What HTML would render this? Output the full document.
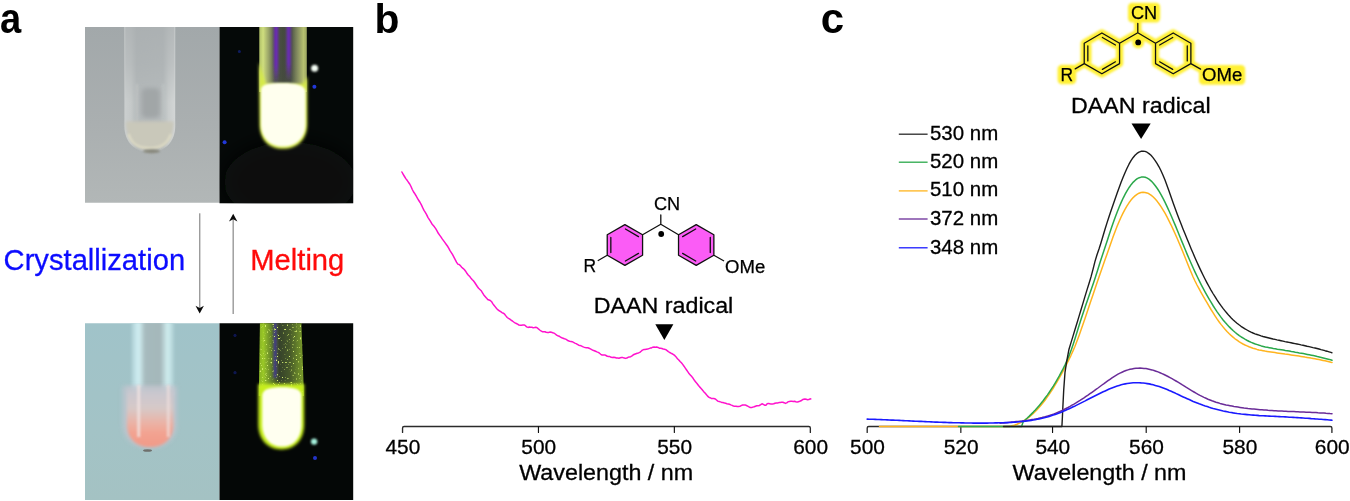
<!DOCTYPE html>
<html lang="en">
<head>
<meta charset="utf-8">
<title>Figure: crystallization and melting, DAAN radical spectra</title>
<style>
html,body{margin:0;padding:0;background:#fff;}
body{width:1350px;height:501px;overflow:hidden;}
svg{display:block;font-family:"Liberation Sans", "Helvetica", "Arial", sans-serif;}
</style>
</head>
<body>
<svg width="1350" height="501" viewBox="0 0 1350 501">
<defs>

<filter id="yglow" x="-10%" y="-20%" width="120%" height="140%"><feGaussianBlur stdDeviation="1.0"/></filter>
<filter id="b05" x="-50%" y="-50%" width="200%" height="200%"><feGaussianBlur stdDeviation="0.6"/></filter>
<filter id="b1" x="-50%" y="-50%" width="200%" height="200%"><feGaussianBlur stdDeviation="1"/></filter>
<filter id="b15" x="-50%" y="-50%" width="200%" height="200%"><feGaussianBlur stdDeviation="1.5"/></filter>
<filter id="b2" x="-50%" y="-50%" width="200%" height="200%"><feGaussianBlur stdDeviation="2"/></filter>
<filter id="b3" x="-50%" y="-50%" width="200%" height="200%"><feGaussianBlur stdDeviation="3"/></filter>
<filter id="b5" x="-50%" y="-50%" width="200%" height="200%"><feGaussianBlur stdDeviation="5"/></filter>
<filter id="b10" x="-50%" y="-50%" width="200%" height="200%"><feGaussianBlur stdDeviation="10"/></filter>
<filter id="speck" x="0" y="0" width="100%" height="100%"><feTurbulence type="fractalNoise" baseFrequency="0.55" numOctaves="2" seed="4" result="n"/><feColorMatrix in="n" type="matrix" values="0 0 0 0 0.66  0 0 0 0 0.86  0 0 0 0 0.16  0 0 0 7 -4.45"/><feGaussianBlur stdDeviation="0.55"/></filter>
<filter id="grain" x="0" y="0" width="100%" height="100%"><feTurbulence type="fractalNoise" baseFrequency="0.8" numOctaves="2" seed="2" result="n"/><feColorMatrix in="n" type="matrix" values="0 0 0 0 1  0 0 0 0 1  0 0 0 0 1  0 0 0 1.2 -0.55"/></filter>
<clipPath id="cTL"><rect x="85" y="27" width="134.5" height="175.8"/></clipPath>
<clipPath id="cTR"><rect x="219.5" y="27" width="133.7" height="176.2"/></clipPath>
<clipPath id="cBL"><rect x="85" y="323.3" width="134.5" height="176.6"/></clipPath>
<clipPath id="cBR"><rect x="219.5" y="323.3" width="133.7" height="176.6"/></clipPath>
<clipPath id="cBRtube"><path d="M260,318 H301.2 L304,396 H258.8 Z"/></clipPath>
<linearGradient id="gTL" x1="0" y1="0" x2="0" y2="1"><stop offset="0" stop-color="#a2a8aa"/><stop offset="0.55" stop-color="#aaafb0"/><stop offset="1" stop-color="#b2b7b7"/></linearGradient>
<linearGradient id="gTLtube" x1="0" y1="0" x2="1" y2="0"><stop offset="0" stop-color="#cbcfcf"/><stop offset="0.13" stop-color="#c5c9c9"/><stop offset="0.24" stop-color="#b4b9ba"/><stop offset="0.76" stop-color="#b6bbbc"/><stop offset="0.87" stop-color="#c9cdcd"/><stop offset="1" stop-color="#d3d6d6"/></linearGradient>
<linearGradient id="gTLfade" x1="0" y1="0" x2="0" y2="1"><stop offset="0" stop-color="#a7acae" stop-opacity="0.72"/><stop offset="0.4" stop-color="#a7acae" stop-opacity="0.45"/><stop offset="0.75" stop-color="#a7acae" stop-opacity="0"/></linearGradient>
<linearGradient id="gTRtube" x1="0" y1="0" x2="1" y2="0"><stop offset="0" stop-color="#b0c068"/><stop offset="0.08" stop-color="#cfde7e"/><stop offset="0.2" stop-color="#98a268"/><stop offset="0.33" stop-color="#4e5646"/><stop offset="0.5" stop-color="#444b3e"/><stop offset="0.66" stop-color="#485042"/><stop offset="0.8" stop-color="#848c60"/><stop offset="0.93" stop-color="#b6c070"/><stop offset="1" stop-color="#9ca662"/></linearGradient>
<linearGradient id="gTRfade" x1="0" y1="0" x2="0" y2="1"><stop offset="0" stop-color="#6a2cb4"/><stop offset="0.7" stop-color="#6a2cb4"/><stop offset="1" stop-color="#6a2cb4" stop-opacity="0"/></linearGradient>
<linearGradient id="gBL" x1="0" y1="0" x2="0" y2="1"><stop offset="0" stop-color="#a0c3c9"/><stop offset="0.6" stop-color="#a3c3c6"/><stop offset="1" stop-color="#a4c2c3"/></linearGradient>
<linearGradient id="gBLtube" x1="0" y1="0" x2="1" y2="0"><stop offset="0" stop-color="#aed0d6"/><stop offset="0.17" stop-color="#d2f0f4"/><stop offset="0.32" stop-color="#a6babd"/><stop offset="0.68" stop-color="#a4b7ba"/><stop offset="0.85" stop-color="#d0eef0"/><stop offset="1" stop-color="#accdd2"/></linearGradient>
<linearGradient id="gBLliq" x1="0" y1="0" x2="0" y2="1"><stop offset="0" stop-color="#c6c8cf" stop-opacity="0"/><stop offset="0.16" stop-color="#cbc8cf"/><stop offset="0.38" stop-color="#d6c9c8"/><stop offset="0.6" stop-color="#e9b4a8"/><stop offset="0.78" stop-color="#f3a290"/><stop offset="1" stop-color="#f09a88"/></linearGradient>
<linearGradient id="gBRtube" x1="0" y1="0" x2="1" y2="0"><stop offset="0" stop-color="#86b024"/><stop offset="0.1" stop-color="#9ac828"/><stop offset="0.28" stop-color="#62802a"/><stop offset="0.46" stop-color="#36422a"/><stop offset="0.68" stop-color="#46582a"/><stop offset="0.9" stop-color="#6c8a2c"/><stop offset="1" stop-color="#7ea02a"/></linearGradient>

</defs>
<g clip-path="url(#cTL)">
<rect x="84" y="26" width="137" height="178" fill="url(#gTL)"/>
<path d="M124.4,20 V126 C124.4,142 134.5,152 149.6,152 C165,152 175.2,142 175.2,126 V20 Z" fill="url(#gTLtube)" filter="url(#b05)"/>
<rect x="125.2" y="20" width="49.4" height="110" fill="url(#gTLfade)"/>
<path d="M137,84 V122 M163.2,84 V122" fill="none" stroke="#c0c5c5" stroke-width="1.8" filter="url(#b1)"/>
<rect x="141.5" y="88" width="18.5" height="30" rx="5" fill="#a1a6a7" filter="url(#b2)"/>
<path d="M126,121.5 H173.6 C173.6,140 163.5,150 149.6,150 C136,150 126,140 126,121.5 Z" fill="#c9c8ba" filter="url(#b15)"/>
<path d="M128.5,134 C132,145.5 140,148.2 149.6,148.2 C159,148.2 167.2,145.5 170.8,134" fill="none" stroke="#dedbc4" stroke-width="2.4" filter="url(#b1)"/>
<path d="M137,120.3 H163" stroke="#dcdfdb" stroke-width="1.5" filter="url(#b05)"/>
<ellipse cx="151.5" cy="151.2" rx="8.5" ry="2" fill="#87877c" filter="url(#b1)"/>
</g>
<g clip-path="url(#cTR)">
<rect x="219" y="26" width="136" height="179" fill="#050908"/>
<ellipse cx="290" cy="182" rx="66" ry="40" fill="#080f08" filter="url(#b10)"/>
<rect x="259.3" y="20" width="47.5" height="72" fill="url(#gTRtube)" filter="url(#b05)"/>
<rect x="274" y="20" width="4.2" height="64" fill="url(#gTRfade)" filter="url(#b1)"/>
<rect x="286.6" y="20" width="4.2" height="61" fill="url(#gTRfade)" filter="url(#b1)"/>
<path d="M258.9,62 L259.6,124 C259.6,140 269,148.8 283,148.8 C297,148.8 307.2,140 307.2,124 V76 L303,84 H266 Z" fill="#d6ea4a" filter="url(#b15)"/>
<path d="M261,90 C261,84 268,83 283,83 C296,83 305.5,85 305.5,92 V124 C305.5,138 296,146.6 283,146.6 C270,146.6 261,138 261,124 Z" fill="#ffffee" filter="url(#b1)"/>
<circle cx="314.6" cy="68.2" r="3.5" fill="#f6fff6" filter="url(#b1)"/>
<circle cx="314.4" cy="86.8" r="2" fill="#2038d8" filter="url(#b05)"/>
<circle cx="239.4" cy="51.6" r="1.5" fill="#101c60" filter="url(#b05)"/>
<circle cx="224.6" cy="142.3" r="2" fill="#2038d8" filter="url(#b05)"/>
</g>
<g clip-path="url(#cBL)">
<rect x="84" y="322" width="137" height="179" fill="url(#gBL)"/>
<rect x="131.5" y="318" width="42.5" height="78" fill="url(#gBLtube)" filter="url(#b15)"/>
<path d="M122.5,386 H177 V424 C177,440 165,448 150,448 C134,448 122.5,440 122.5,424 Z" fill="#c3c5cf" opacity="0.75" filter="url(#b2)"/>
<path d="M127,384 H173.5 V424 C173.5,439 163.5,447 150,447 C136.5,447 127,439 127,424 Z" fill="url(#gBLliq)" filter="url(#b15)"/>
<rect x="137.2" y="385" width="3" height="52" fill="#f2e4e2" opacity="0.8" filter="url(#b1)"/>
<rect x="166.8" y="385" width="3" height="52" fill="#f0e0de" opacity="0.7" filter="url(#b1)"/>
<ellipse cx="147.5" cy="450.5" rx="4.5" ry="1.3" fill="#6e6f6c" filter="url(#b05)"/>
</g>
<g clip-path="url(#cBR)">
<rect x="219" y="322" width="136" height="179" fill="#040706"/>
<path d="M260,318 H301.2 L304,396 H258.8 Z" fill="url(#gBRtube)" filter="url(#b05)"/>
<rect x="273.6" y="318" width="3.2" height="60" fill="#4030a0" opacity="0.8" filter="url(#b1)"/>
<g clip-path="url(#cBRtube)"><rect x="258" y="322" width="48" height="70" filter="url(#speck)"/></g>
<path d="M258.2,384 V424 C258.2,440 268,449.4 281.4,449.4 C295,449.4 304.2,440 304.2,424 V384 Z" fill="#c6ee1c" filter="url(#b15)"/>
<path d="M262.2,396 C262.2,389 270,387.3 282,387.3 C294,387.3 301.4,389 301.4,396 V424 C301.4,438 293.5,446.6 282,446.6 C270.5,446.6 262.2,438 262.2,424 Z" fill="#fffff0" filter="url(#b1)"/>
<circle cx="314.1" cy="441.6" r="3.2" fill="#a4f0dc" filter="url(#b1)"/>
<circle cx="315" cy="458" r="2" fill="#2434c8" filter="url(#b05)"/>
<circle cx="235" cy="335.4" r="1.6" fill="#0e1850" filter="url(#b05)"/>
<circle cx="235" cy="372.7" r="1.6" fill="#0e1850" filter="url(#b05)"/>
</g>
<text x="-0.1" y="33.4" font-size="42" textLength="21.2" lengthAdjust="spacingAndGlyphs" font-weight="bold" fill="#000">a</text>
<text x="374.6" y="32.8" font-size="40.8" font-weight="bold" fill="#000">b</text>
<text x="820.8" y="33.4" font-size="42" font-weight="bold" fill="#000">c</text>
<text x="3.6" y="269.5" font-size="30.4" textLength="181.5" lengthAdjust="spacingAndGlyphs" fill="#0c0cff" stroke="#0c0cff" stroke-width="0.3">Crystallization</text>
<text x="250.3" y="269.5" font-size="30" textLength="94" lengthAdjust="spacingAndGlyphs" fill="#ff0a0a" stroke="#ff0a0a" stroke-width="0.3">Melting</text>
<line x1="199.7" y1="213.3" x2="199.7" y2="310" stroke="#9c9c9c" stroke-width="1.45"/>
<path d="M199.7,313.4 L195.5,305.7 L199.7,307.9 L203.9,305.7 Z" fill="#0a0a0a"/>
<line x1="233.2" y1="217" x2="233.2" y2="313.9" stroke="#9c9c9c" stroke-width="1.45"/>
<path d="M233.2,213.7 L229.0,221.4 L233.2,219.2 L237.4,221.4 Z" fill="#0a0a0a"/>
<path d="M401.9,172.0 L403.2,174.3 L404.5,176.5 L405.8,178.6 L407.1,180.3 L408.4,182.2 L409.7,184.0 L411.0,186.5 L412.3,189.5 L413.6,192.0 L414.9,193.8 L416.2,196.0 L417.5,198.4 L418.8,200.5 L420.1,202.5 L421.4,204.9 L422.7,207.7 L424.0,210.4 L425.3,212.4 L426.6,214.6 L427.9,217.3 L429.2,219.4 L430.5,221.4 L431.8,223.7 L433.1,225.3 L434.4,226.8 L435.7,228.7 L437.0,230.8 L438.3,233.3 L439.6,235.1 L440.9,236.9 L442.2,238.9 L443.5,240.6 L444.8,242.4 L446.1,244.2 L447.4,246.0 L448.7,248.2 L450.0,250.7 L451.3,252.6 L452.6,254.7 L453.9,257.2 L455.2,259.7 L456.5,262.2 L457.8,264.1 L459.1,264.5 L460.4,265.6 L461.7,267.2 L463.0,268.4 L464.3,269.5 L465.6,271.2 L466.9,273.3 L468.2,275.0 L469.5,276.3 L470.8,277.9 L472.1,279.4 L473.4,280.8 L474.7,282.5 L476.0,284.5 L477.3,286.5 L478.6,288.3 L479.9,289.5 L481.2,290.7 L482.5,292.8 L483.8,294.9 L485.1,296.4 L486.4,297.9 L487.7,299.5 L489.0,300.0 L490.3,300.5 L491.6,301.7 L492.9,303.9 L494.2,305.5 L495.5,307.1 L496.8,308.8 L498.1,310.0 L499.4,310.8 L500.7,311.7 L502.0,312.6 L503.3,313.2 L504.6,314.2 L505.9,315.9 L507.2,317.5 L508.5,318.4 L509.8,319.2 L511.1,320.2 L512.4,321.0 L513.7,322.0 L515.0,322.9 L516.3,323.5 L517.6,324.2 L518.9,325.0 L520.2,325.2 L521.5,325.2 L522.8,325.0 L524.1,324.9 L525.4,325.7 L526.7,326.9 L528.0,327.4 L529.3,327.1 L530.6,327.2 L531.9,327.3 L533.2,327.7 L534.5,327.6 L535.8,327.3 L537.1,327.7 L538.4,328.9 L539.7,330.0 L541.0,330.9 L542.3,331.7 L543.6,331.7 L544.9,331.7 L546.2,332.3 L547.5,332.6 L548.8,332.4 L550.1,332.0 L551.4,332.3 L552.7,332.7 L554.0,333.1 L555.3,334.0 L556.6,335.1 L557.9,335.7 L559.2,336.2 L560.5,337.1 L561.8,337.7 L563.1,338.2 L564.4,338.7 L565.7,339.1 L567.0,340.0 L568.3,340.8 L569.6,341.2 L570.9,341.4 L572.2,341.7 L573.5,342.4 L574.8,343.1 L576.1,343.6 L577.4,344.4 L578.7,345.2 L580.0,345.5 L581.3,345.9 L582.6,346.6 L583.9,347.1 L585.2,347.5 L586.5,347.7 L587.8,347.8 L589.1,348.3 L590.4,348.9 L591.7,349.6 L593.0,350.2 L594.3,350.7 L595.6,351.3 L596.9,351.9 L598.2,352.4 L599.5,353.2 L600.8,354.3 L602.1,355.0 L603.4,355.1 L604.7,354.9 L606.0,355.5 L607.3,356.3 L608.6,356.5 L609.9,356.6 L611.2,357.3 L612.5,357.6 L613.8,357.3 L615.1,357.5 L616.4,358.0 L617.7,358.0 L619.0,358.2 L620.3,357.8 L621.6,357.5 L622.9,357.6 L624.2,358.0 L625.5,358.4 L626.8,358.0 L628.1,357.3 L629.4,356.9 L630.7,356.7 L632.0,355.8 L633.3,354.8 L634.6,354.2 L635.9,353.7 L637.2,353.2 L638.5,352.9 L639.8,352.4 L641.1,351.3 L642.4,350.1 L643.7,349.6 L645.0,349.5 L646.3,349.3 L647.6,349.1 L648.9,348.6 L650.2,348.1 L651.5,347.9 L652.8,347.2 L654.1,347.0 L655.4,347.2 L656.7,347.1 L658.0,347.4 L659.3,348.2 L660.6,348.3 L661.9,348.5 L663.2,349.0 L664.5,349.2 L665.8,349.6 L667.1,350.6 L668.4,351.6 L669.7,352.5 L671.0,353.2 L672.3,353.8 L673.6,354.7 L674.9,355.7 L676.2,357.1 L677.5,358.7 L678.8,360.0 L680.1,361.5 L681.4,362.8 L682.7,364.4 L684.0,366.2 L685.3,368.1 L686.6,370.0 L687.9,371.9 L689.2,373.8 L690.5,375.2 L691.8,376.6 L693.1,378.3 L694.4,380.3 L695.7,382.1 L697.0,383.5 L698.3,385.2 L699.6,386.9 L700.9,388.2 L702.2,389.7 L703.5,391.4 L704.8,392.8 L706.1,394.3 L707.4,395.9 L708.7,397.1 L710.0,397.7 L711.3,398.4 L712.6,398.6 L713.9,398.6 L715.2,398.9 L716.5,400.0 L717.8,401.1 L719.1,401.5 L720.4,401.9 L721.7,402.4 L723.0,402.6 L724.3,402.9 L725.6,403.3 L726.9,403.7 L728.2,404.0 L729.5,404.3 L730.8,404.9 L732.1,405.4 L733.4,406.0 L734.7,406.2 L736.0,406.3 L737.3,406.6 L738.6,406.4 L739.9,406.2 L741.2,405.6 L742.5,405.0 L743.8,404.9 L745.1,404.9 L746.4,405.5 L747.7,406.2 L749.0,406.9 L750.3,407.6 L751.6,407.6 L752.9,407.1 L754.2,406.8 L755.5,406.2 L756.8,405.7 L758.1,405.7 L759.4,405.5 L760.7,404.7 L762.0,403.8 L763.3,404.4 L764.6,405.2 L765.9,405.2 L767.2,403.8 L768.5,403.4 L769.8,403.7 L771.1,404.1 L772.4,404.1 L773.7,403.8 L775.0,403.2 L776.3,402.9 L777.6,403.0 L778.9,402.6 L780.2,402.4 L781.5,402.2 L782.8,402.2 L784.1,402.7 L785.4,403.4 L786.7,402.9 L788.0,401.9 L789.3,401.4 L790.6,401.2 L791.9,401.3 L793.2,401.4 L794.5,401.3 L795.8,401.8 L797.1,402.1 L798.4,401.7 L799.7,401.3 L801.0,400.8 L802.3,399.8 L803.6,399.3 L804.9,399.1 L806.2,399.3 L807.5,399.7 L808.8,399.5 L810.1,398.8 L810.8,398.9" fill="none" stroke="#ff12cc" stroke-width="1.5" stroke-linejoin="round" stroke-linecap="round"/>
<path d="M402.55,432.4 V428.1 Q402.55,426.5 404.15000000000003,426.5 H808.75 Q810.35,426.5 810.35,428.1 V432.4" fill="none" stroke="#2b2b2b" stroke-width="1.35" stroke-linecap="round"/>
<path d="M538.45,426.5 V432.4 M674.35,426.5 V432.4" fill="none" stroke="#111" stroke-width="1.15" stroke-linecap="round"/>
<text x="402.85" y="454.4" font-size="21.0" text-anchor="middle" textLength="34.8" lengthAdjust="spacingAndGlyphs" fill="#000" stroke="#000" stroke-width="0.3">450</text>
<text x="538.75" y="454.4" font-size="21.0" text-anchor="middle" textLength="34.8" lengthAdjust="spacingAndGlyphs" fill="#000" stroke="#000" stroke-width="0.3">500</text>
<text x="674.65" y="454.4" font-size="21.0" text-anchor="middle" textLength="34.8" lengthAdjust="spacingAndGlyphs" fill="#000" stroke="#000" stroke-width="0.3">550</text>
<text x="810.65" y="454.4" font-size="21.0" text-anchor="middle" textLength="34.8" lengthAdjust="spacingAndGlyphs" fill="#000" stroke="#000" stroke-width="0.3">600</text>
<text x="519.2" y="480.0" font-size="22.7" textLength="174" lengthAdjust="spacingAndGlyphs" fill="#000" stroke="#000" stroke-width="0.3">Wavelength / nm</text>
<path d="M624.90,224.60 L642.57,234.80 L642.57,255.20 L624.90,265.40 L607.23,255.20 L607.23,234.80 Z M696.20,224.60 L713.87,234.80 L713.87,255.20 L696.20,265.40 L678.53,255.20 L678.53,234.80 Z" fill="#fb5cf6" stroke="none"/>
<path d="M624.90,224.60 L642.57,234.80 L642.57,255.20 L624.90,265.40 L607.23,255.20 L607.23,234.80 Z M696.20,224.60 L713.87,234.80 L713.87,255.20 L696.20,265.40 L678.53,255.20 L678.53,234.80 Z M610.83,252.55 L610.83,237.45 M625.40,229.04 L638.47,236.59 M638.47,253.41 L625.40,260.96 M710.27,237.45 L710.27,252.55 M682.63,236.59 L695.70,229.04 M695.70,260.96 L682.63,253.41 M642.57,234.80 L660.80,224.30 M660.80,224.30 L678.53,234.80 M660.80,224.30 L660.80,215.00 M607.23,255.20 L598.20,260.50 M713.87,255.20 L723.60,260.70" fill="none" stroke="#111" stroke-width="1.3" stroke-linejoin="round" stroke-linecap="round"/>
<circle cx="661.2" cy="234.0" r="2.9" fill="#000"/>
<text x="654.0" y="210.4" font-size="18.0" textLength="26.2" lengthAdjust="spacingAndGlyphs" fill="#000" stroke="#000" stroke-width="0.25">CN</text>
<text x="583.6" y="272.2" font-size="17.8" textLength="12.6" lengthAdjust="spacingAndGlyphs" fill="#000" stroke="#000" stroke-width="0.25">R</text>
<text x="725.0" y="272.7" font-size="18.3" textLength="40.2" lengthAdjust="spacingAndGlyphs" fill="#000" stroke="#000" stroke-width="0.25">OMe</text>
<text x="593.7" y="313.4" font-size="22.3" textLength="139.6" lengthAdjust="spacingAndGlyphs" fill="#000" stroke="#000" stroke-width="0.3">DAAN radical</text>
<path d="M655.3,324.2 L673.4,324.2 L664.35,340 Z" fill="#000"/>
<path d="M867.2,432.4 V428.1 Q867.2,426.5 868.8000000000001,426.5 H1330.3000000000002 Q1331.9,426.5 1331.9,428.1 V432.4" fill="none" stroke="#2b2b2b" stroke-width="1.35" stroke-linecap="round"/>
<path d="M960.85,426.5 V432.4 M1052.55,426.5 V432.4 M1146.2,426.5 V432.4 M1239.6,426.5 V432.4" fill="none" stroke="#111" stroke-width="1.15" stroke-linecap="round"/>
<path d="M879.5,426.5 L1009.0,426.5 L1009.0,426.4 L1011.0,426.1 L1013.0,425.6 L1015.0,425.0 L1017.0,424.2 L1019.0,423.3 L1021.0,422.3 L1023.0,421.2 L1025.0,420.0 L1027.0,418.6 L1029.0,417.1 L1031.0,415.4 L1033.0,413.6 L1035.0,411.7 L1037.0,409.7 L1039.0,407.5 L1041.0,405.2 L1043.0,402.7 L1045.0,400.2 L1047.0,397.4 L1049.0,394.6 L1051.0,391.6 L1053.0,388.5 L1055.0,385.2 L1057.0,381.9 L1059.0,378.4 L1061.0,374.8 L1063.0,371.1 L1065.0,367.3 L1067.0,363.4 L1069.0,359.4 L1071.0,355.3 L1073.0,350.9 L1075.0,346.2 L1077.0,341.1 L1079.0,335.7 L1081.0,330.1 L1083.0,324.3 L1085.0,318.4 L1087.0,312.5 L1089.0,306.5 L1091.0,300.6 L1093.0,294.7 L1095.0,288.7 L1097.0,282.8 L1099.0,277.0 L1101.0,271.2 L1103.0,265.5 L1105.0,259.8 L1107.0,254.2 L1109.0,248.5 L1111.0,242.8 L1113.0,237.1 L1115.0,231.7 L1117.0,226.6 L1119.0,221.8 L1121.0,217.3 L1123.0,213.1 L1125.0,209.3 L1127.0,205.9 L1129.0,202.8 L1131.0,200.1 L1133.0,197.8 L1135.0,195.9 L1137.0,194.4 L1139.0,193.2 L1141.0,192.5 L1143.0,192.2 L1145.0,192.4 L1147.0,192.9 L1149.0,193.8 L1151.0,195.1 L1153.0,196.8 L1155.0,198.8 L1157.0,201.1 L1159.0,203.7 L1161.0,206.6 L1163.0,209.8 L1165.0,213.2 L1167.0,216.9 L1169.0,220.8 L1171.0,224.8 L1173.0,229.1 L1175.0,233.5 L1177.0,238.0 L1179.0,242.7 L1181.0,247.4 L1183.0,252.3 L1185.0,257.2 L1187.0,262.2 L1189.0,267.2 L1191.0,272.0 L1193.0,276.7 L1195.0,281.0 L1197.0,285.0 L1199.0,288.7 L1201.0,292.3 L1203.0,295.8 L1205.0,299.3 L1207.0,302.7 L1209.0,306.1 L1211.0,309.5 L1213.0,312.7 L1215.0,315.8 L1217.0,318.9 L1219.0,321.7 L1221.0,324.4 L1223.0,326.9 L1225.0,329.3 L1227.0,331.5 L1229.0,333.5 L1231.0,335.4 L1233.0,337.1 L1235.0,338.8 L1237.0,340.2 L1239.0,341.6 L1241.0,342.8 L1243.0,344.0 L1245.0,345.0 L1247.0,345.9 L1249.0,346.8 L1251.0,347.5 L1253.0,348.2 L1255.0,348.8 L1257.0,349.4 L1259.0,349.9 L1261.0,350.3 L1263.0,350.7 L1265.0,351.1 L1267.0,351.4 L1269.0,351.7 L1271.0,352.0 L1273.0,352.3 L1275.0,352.6 L1277.0,352.9 L1279.0,353.2 L1281.0,353.5 L1283.0,353.8 L1285.0,354.1 L1287.0,354.3 L1289.0,354.6 L1291.0,354.9 L1293.0,355.2 L1295.0,355.5 L1297.0,355.8 L1299.0,356.1 L1301.0,356.4 L1303.0,356.7 L1305.0,357.1 L1307.0,357.4 L1309.0,357.7 L1311.0,358.1 L1313.0,358.4 L1315.0,358.8 L1317.0,359.2 L1319.0,359.6 L1321.0,360.0 L1323.0,360.4 L1325.0,360.8 L1327.0,361.2 L1329.0,361.7 L1331.0,362.2 L1332.0,362.4" fill="none" stroke="#ffb41e" stroke-width="1.5" stroke-linejoin="round" stroke-linecap="round"/>
<path d="M958.5,426.5 L1021.6,426.5 L1022.4,424.0 L1023.3,421.5 L1025.3,419.8 L1027.3,418.0 L1029.3,416.1 L1031.3,414.1 L1033.3,412.1 L1035.3,410.0 L1037.3,407.7 L1039.3,405.4 L1041.3,403.0 L1043.3,400.5 L1045.3,397.8 L1047.3,395.1 L1049.3,392.2 L1051.3,389.2 L1053.3,386.1 L1055.3,382.8 L1057.3,379.4 L1059.3,375.9 L1061.3,372.2 L1063.3,368.4 L1065.3,364.3 L1067.3,359.9 L1069.3,355.1 L1071.3,349.8 L1073.3,344.0 L1075.3,337.8 L1077.3,331.3 L1079.3,324.8 L1081.3,318.5 L1083.3,312.4 L1085.3,306.5 L1087.3,300.7 L1089.3,295.0 L1091.3,289.3 L1093.3,283.4 L1095.3,277.4 L1097.3,271.2 L1099.3,264.8 L1101.3,258.5 L1103.3,252.6 L1105.3,246.6 L1107.3,240.4 L1109.3,234.3 L1111.3,228.3 L1113.3,222.5 L1115.3,217.0 L1117.3,211.7 L1119.3,206.8 L1121.3,202.1 L1123.3,197.8 L1125.3,193.9 L1127.3,190.3 L1129.3,187.2 L1131.3,184.4 L1133.3,182.1 L1135.3,180.2 L1137.3,178.7 L1139.3,177.7 L1141.3,177.1 L1143.3,177.0 L1145.3,177.3 L1147.3,178.1 L1149.3,179.4 L1151.3,181.1 L1153.3,183.2 L1155.3,185.7 L1157.3,188.5 L1159.3,191.7 L1161.3,195.2 L1163.3,198.9 L1165.3,202.9 L1167.3,207.1 L1169.3,211.5 L1171.3,216.0 L1173.3,220.7 L1175.3,225.4 L1177.3,230.3 L1179.3,235.2 L1181.3,240.1 L1183.3,244.9 L1185.3,249.8 L1187.3,254.6 L1189.3,259.3 L1191.3,263.8 L1193.3,268.3 L1195.3,272.6 L1197.3,276.8 L1199.3,280.8 L1201.3,284.8 L1203.3,288.6 L1205.3,292.3 L1207.3,295.9 L1209.3,299.4 L1211.3,302.7 L1213.3,306.0 L1215.3,309.1 L1217.3,312.1 L1219.3,314.9 L1221.3,317.6 L1223.3,320.2 L1225.3,322.6 L1227.3,324.8 L1229.3,326.9 L1231.3,328.9 L1233.3,330.8 L1235.3,332.5 L1237.3,334.1 L1239.3,335.6 L1241.3,337.0 L1243.3,338.2 L1245.3,339.4 L1247.3,340.5 L1249.3,341.5 L1251.3,342.4 L1253.3,343.2 L1255.3,344.0 L1257.3,344.6 L1259.3,345.3 L1261.3,345.9 L1263.3,346.4 L1265.3,346.9 L1267.3,347.3 L1269.3,347.7 L1271.3,348.1 L1273.3,348.5 L1275.3,348.8 L1277.3,349.2 L1279.3,349.5 L1281.3,349.8 L1283.3,350.1 L1285.3,350.5 L1287.3,350.8 L1289.3,351.1 L1291.3,351.5 L1293.3,351.8 L1295.3,352.2 L1297.3,352.5 L1299.3,352.9 L1301.3,353.2 L1303.3,353.6 L1305.3,354.0 L1307.3,354.4 L1309.3,354.8 L1311.3,355.2 L1313.3,355.6 L1315.3,356.0 L1317.3,356.5 L1319.3,356.9 L1321.3,357.4 L1323.3,357.9 L1325.3,358.4 L1327.3,358.9 L1329.3,359.4 L1331.3,360.0 L1332.0,360.2" fill="none" stroke="#2aa84a" stroke-width="1.5" stroke-linejoin="round" stroke-linecap="round"/>
<path d="M1003.5,426.5 L1061.9,426.5 L1062.4,417.0 L1062.8,408.2 L1063.7,390.3 L1065.0,372.3 L1066.6,362.0 L1069.0,349.2 L1071.0,342.6 L1073.0,336.1 L1075.0,329.5 L1077.0,323.0 L1079.0,316.4 L1081.0,309.8 L1083.0,303.1 L1085.0,296.4 L1087.0,289.9 L1089.0,283.5 L1091.0,276.9 L1093.0,269.4 L1095.0,261.4 L1097.0,254.8 L1099.0,249.0 L1101.0,242.7 L1103.0,236.0 L1105.0,229.3 L1107.0,222.9 L1109.0,216.7 L1111.0,210.8 L1113.0,205.0 L1115.0,199.2 L1117.0,193.5 L1119.0,188.0 L1121.0,182.6 L1123.0,177.5 L1125.0,172.7 L1127.0,168.2 L1129.0,164.2 L1131.0,160.7 L1133.0,157.7 L1135.0,155.2 L1137.0,153.4 L1139.0,152.1 L1141.0,151.3 L1143.0,151.1 L1145.0,151.4 L1147.0,152.2 L1149.0,153.6 L1151.0,155.3 L1153.0,157.6 L1155.0,160.3 L1157.0,163.3 L1159.0,166.8 L1161.0,170.8 L1163.0,175.2 L1165.0,180.1 L1167.0,185.4 L1169.0,191.0 L1171.0,196.7 L1173.0,202.5 L1175.0,208.1 L1177.0,213.5 L1179.0,218.7 L1181.0,223.8 L1183.0,228.9 L1185.0,233.8 L1187.0,238.7 L1189.0,243.6 L1191.0,248.4 L1193.0,253.1 L1195.0,257.7 L1197.0,262.2 L1199.0,266.6 L1201.0,270.9 L1203.0,275.0 L1205.0,279.0 L1207.0,282.8 L1209.0,286.5 L1211.0,290.1 L1213.0,293.5 L1215.0,296.7 L1217.0,299.9 L1219.0,302.8 L1221.0,305.7 L1223.0,308.4 L1225.0,310.9 L1227.0,313.3 L1229.0,315.6 L1231.0,317.7 L1233.0,319.7 L1235.0,321.5 L1237.0,323.2 L1239.0,324.8 L1241.0,326.3 L1243.0,327.6 L1245.0,328.9 L1247.0,330.0 L1249.0,331.1 L1251.0,332.1 L1253.0,333.0 L1255.0,333.8 L1257.0,334.5 L1259.0,335.2 L1261.0,335.9 L1263.0,336.5 L1265.0,337.0 L1267.0,337.5 L1269.0,338.0 L1271.0,338.5 L1273.0,339.0 L1275.0,339.4 L1277.0,339.9 L1279.0,340.3 L1281.0,340.7 L1283.0,341.1 L1285.0,341.6 L1287.0,342.0 L1289.0,342.4 L1291.0,342.8 L1293.0,343.2 L1295.0,343.6 L1297.0,344.0 L1299.0,344.4 L1301.0,344.9 L1303.0,345.3 L1305.0,345.7 L1307.0,346.2 L1309.0,346.6 L1311.0,347.1 L1313.0,347.6 L1315.0,348.0 L1317.0,348.5 L1319.0,349.0 L1321.0,349.6 L1323.0,350.1 L1325.0,350.7 L1327.0,351.2 L1329.0,351.8 L1331.0,352.4 L1332.0,352.8" fill="none" stroke="#1c1c1c" stroke-width="1.4" stroke-linejoin="round" stroke-linecap="round"/>
<path d="M1000.0,423.3 L1002.0,423.1 L1004.0,422.9 L1006.0,422.7 L1008.0,422.5 L1010.0,422.3 L1012.0,422.1 L1014.0,421.9 L1016.0,421.6 L1018.0,421.4 L1020.0,421.2 L1022.0,421.0 L1024.0,420.7 L1026.0,420.5 L1028.0,420.2 L1030.0,419.9 L1032.0,419.6 L1034.0,419.3 L1036.0,418.9 L1038.0,418.5 L1040.0,418.0 L1042.0,417.6 L1044.0,417.1 L1046.0,416.5 L1048.0,415.9 L1050.0,415.3 L1052.0,414.6 L1054.0,413.9 L1056.0,413.1 L1058.0,412.3 L1060.0,411.4 L1062.0,410.5 L1064.0,409.5 L1066.0,408.5 L1068.0,407.5 L1070.0,406.4 L1072.0,405.2 L1074.0,404.1 L1076.0,402.9 L1078.0,401.6 L1080.0,400.4 L1082.0,399.1 L1084.0,397.8 L1086.0,396.4 L1088.0,395.1 L1090.0,393.7 L1092.0,392.3 L1094.0,390.9 L1096.0,389.4 L1098.0,388.0 L1100.0,386.5 L1102.0,385.0 L1104.0,383.6 L1106.0,382.1 L1108.0,380.7 L1110.0,379.3 L1112.0,377.9 L1114.0,376.6 L1116.0,375.4 L1118.0,374.2 L1120.0,373.1 L1122.0,372.2 L1124.0,371.3 L1126.0,370.5 L1128.0,369.9 L1130.0,369.3 L1132.0,368.9 L1134.0,368.5 L1136.0,368.3 L1138.0,368.2 L1140.0,368.1 L1142.0,368.2 L1144.0,368.4 L1146.0,368.6 L1148.0,369.0 L1150.0,369.4 L1152.0,369.9 L1154.0,370.5 L1156.0,371.2 L1158.0,371.9 L1160.0,372.7 L1162.0,373.6 L1164.0,374.5 L1166.0,375.5 L1168.0,376.5 L1170.0,377.6 L1172.0,378.7 L1174.0,379.8 L1176.0,381.0 L1178.0,382.2 L1180.0,383.4 L1182.0,384.7 L1184.0,385.9 L1186.0,387.2 L1188.0,388.4 L1190.0,389.6 L1192.0,390.8 L1194.0,392.0 L1196.0,393.2 L1198.0,394.3 L1200.0,395.4 L1202.0,396.4 L1204.0,397.4 L1206.0,398.3 L1208.0,399.2 L1210.0,400.0 L1212.0,400.8 L1214.0,401.5 L1216.0,402.2 L1218.0,402.8 L1220.0,403.4 L1222.0,403.9 L1224.0,404.4 L1226.0,404.9 L1228.0,405.3 L1230.0,405.7 L1232.0,406.1 L1234.0,406.5 L1236.0,406.8 L1238.0,407.1 L1240.0,407.4 L1242.0,407.7 L1244.0,408.0 L1246.0,408.2 L1248.0,408.5 L1250.0,408.7 L1252.0,408.9 L1254.0,409.1 L1256.0,409.3 L1258.0,409.5 L1260.0,409.7 L1262.0,409.8 L1264.0,410.0 L1266.0,410.1 L1268.0,410.3 L1270.0,410.4 L1272.0,410.5 L1274.0,410.7 L1276.0,410.8 L1278.0,410.9 L1280.0,411.0 L1282.0,411.1 L1284.0,411.2 L1286.0,411.3 L1288.0,411.4 L1290.0,411.5 L1292.0,411.5 L1294.0,411.6 L1296.0,411.7 L1298.0,411.8 L1300.0,411.9 L1302.0,412.0 L1304.0,412.1 L1306.0,412.2 L1308.0,412.2 L1310.0,412.3 L1312.0,412.4 L1314.0,412.5 L1316.0,412.6 L1318.0,412.8 L1320.0,412.9 L1322.0,413.0 L1324.0,413.1 L1326.0,413.3 L1328.0,413.4 L1330.0,413.6 L1332.0,413.7" fill="none" stroke="#6a2c98" stroke-width="1.5" stroke-linejoin="round" stroke-linecap="round"/>
<path d="M867.2,419.1 L869.2,419.2 L871.2,419.2 L873.2,419.3 L875.2,419.4 L877.2,419.5 L879.2,419.5 L881.2,419.6 L883.2,419.7 L885.2,419.8 L887.2,419.9 L889.2,420.0 L891.2,420.1 L893.2,420.1 L895.2,420.2 L897.2,420.3 L899.2,420.4 L901.2,420.5 L903.2,420.6 L905.2,420.7 L907.2,420.8 L909.2,420.9 L911.2,421.0 L913.2,421.1 L915.2,421.2 L917.2,421.3 L919.2,421.4 L921.2,421.4 L923.2,421.5 L925.2,421.6 L927.2,421.7 L929.2,421.8 L931.2,421.9 L933.2,422.0 L935.2,422.1 L937.2,422.1 L939.2,422.2 L941.2,422.3 L943.2,422.4 L945.2,422.4 L947.2,422.5 L949.2,422.6 L951.2,422.6 L953.2,422.7 L955.2,422.7 L957.2,422.8 L959.2,422.8 L961.2,422.9 L963.2,422.9 L965.2,423.0 L967.2,423.0 L969.2,423.0 L971.2,423.0 L973.2,423.1 L975.2,423.1 L977.2,423.1 L979.2,423.1 L981.2,423.1 L983.2,423.1 L985.2,423.1 L987.2,423.1 L989.2,423.0 L991.2,423.0 L993.2,423.0 L995.2,422.9 L997.2,422.9 L999.2,422.8 L1001.2,422.8 L1003.2,422.7 L1005.2,422.6 L1007.2,422.6 L1009.2,422.5 L1011.2,422.4 L1013.2,422.2 L1015.2,422.1 L1017.2,422.0 L1019.2,421.8 L1021.2,421.6 L1023.2,421.4 L1025.2,421.2 L1027.2,420.9 L1029.2,420.7 L1031.2,420.4 L1033.2,420.0 L1035.2,419.7 L1037.2,419.3 L1039.2,418.9 L1041.2,418.5 L1043.2,418.0 L1045.2,417.5 L1047.2,417.0 L1049.2,416.4 L1051.2,415.8 L1053.2,415.1 L1055.2,414.4 L1057.2,413.7 L1059.2,413.0 L1061.2,412.2 L1063.2,411.3 L1065.2,410.5 L1067.2,409.6 L1069.2,408.7 L1071.2,407.8 L1073.2,406.8 L1075.2,405.9 L1077.2,404.9 L1079.2,403.9 L1081.2,402.9 L1083.2,401.9 L1085.2,400.9 L1087.2,399.8 L1089.2,398.8 L1091.2,397.8 L1093.2,396.8 L1095.2,395.8 L1097.2,394.8 L1099.2,393.8 L1101.2,392.8 L1103.2,391.8 L1105.2,390.9 L1107.2,390.0 L1109.2,389.1 L1111.2,388.3 L1113.2,387.5 L1115.2,386.7 L1117.2,386.0 L1119.2,385.4 L1121.2,384.8 L1123.2,384.3 L1125.2,383.9 L1127.2,383.5 L1129.2,383.2 L1131.2,383.0 L1133.2,382.8 L1135.2,382.7 L1137.2,382.7 L1139.2,382.7 L1141.2,382.9 L1143.2,383.0 L1145.2,383.3 L1147.2,383.6 L1149.2,383.9 L1151.2,384.4 L1153.2,384.8 L1155.2,385.4 L1157.2,386.0 L1159.2,386.6 L1161.2,387.3 L1163.2,388.0 L1165.2,388.8 L1167.2,389.6 L1169.2,390.5 L1171.2,391.3 L1173.2,392.2 L1175.2,393.1 L1177.2,394.1 L1179.2,395.0 L1181.2,396.0 L1183.2,396.9 L1185.2,397.8 L1187.2,398.7 L1189.2,399.6 L1191.2,400.5 L1193.2,401.4 L1195.2,402.2 L1197.2,403.0 L1199.2,403.8 L1201.2,404.5 L1203.2,405.3 L1205.2,406.0 L1207.2,406.6 L1209.2,407.3 L1211.2,407.9 L1213.2,408.5 L1215.2,409.0 L1217.2,409.5 L1219.2,410.0 L1221.2,410.5 L1223.2,411.0 L1225.2,411.4 L1227.2,411.8 L1229.2,412.2 L1231.2,412.5 L1233.2,412.9 L1235.2,413.2 L1237.2,413.5 L1239.2,413.7 L1241.2,414.0 L1243.2,414.2 L1245.2,414.4 L1247.2,414.6 L1249.2,414.8 L1251.2,415.0 L1253.2,415.1 L1255.2,415.3 L1257.2,415.4 L1259.2,415.6 L1261.2,415.7 L1263.2,415.8 L1265.2,415.9 L1267.2,416.0 L1269.2,416.1 L1271.2,416.2 L1273.2,416.3 L1275.2,416.4 L1277.2,416.5 L1279.2,416.6 L1281.2,416.7 L1283.2,416.8 L1285.2,416.9 L1287.2,417.0 L1289.2,417.2 L1291.2,417.3 L1293.2,417.4 L1295.2,417.5 L1297.2,417.6 L1299.2,417.8 L1301.2,417.9 L1303.2,418.0 L1305.2,418.2 L1307.2,418.3 L1309.2,418.4 L1311.2,418.6 L1313.2,418.7 L1315.2,418.9 L1317.2,419.0 L1319.2,419.2 L1321.2,419.3 L1323.2,419.5 L1325.2,419.6 L1327.2,419.8 L1329.2,420.0 L1331.2,420.1 L1332.0,420.2" fill="none" stroke="#1a1aff" stroke-width="1.6" stroke-linejoin="round" stroke-linecap="round"/>
<text x="867.5" y="454.4" font-size="21.0" text-anchor="middle" textLength="34.8" lengthAdjust="spacingAndGlyphs" fill="#000" stroke="#000" stroke-width="0.3">500</text>
<text x="961.1" y="454.4" font-size="21.0" text-anchor="middle" textLength="34.8" lengthAdjust="spacingAndGlyphs" fill="#000" stroke="#000" stroke-width="0.3">520</text>
<text x="1052.8" y="454.4" font-size="21.0" text-anchor="middle" textLength="34.8" lengthAdjust="spacingAndGlyphs" fill="#000" stroke="#000" stroke-width="0.3">540</text>
<text x="1146.5" y="454.4" font-size="21.0" text-anchor="middle" textLength="34.8" lengthAdjust="spacingAndGlyphs" fill="#000" stroke="#000" stroke-width="0.3">560</text>
<text x="1239.9" y="454.4" font-size="21.0" text-anchor="middle" textLength="34.8" lengthAdjust="spacingAndGlyphs" fill="#000" stroke="#000" stroke-width="0.3">580</text>
<text x="1332.2" y="454.4" font-size="21.0" text-anchor="middle" textLength="34.8" lengthAdjust="spacingAndGlyphs" fill="#000" stroke="#000" stroke-width="0.3">600</text>
<text x="1012.5" y="479.7" font-size="22.7" textLength="174" lengthAdjust="spacingAndGlyphs" fill="#000" stroke="#000" stroke-width="0.3">Wavelength / nm</text>
<line x1="898.8" y1="134.2" x2="927.6" y2="134.2" stroke="#2a2a2a" stroke-width="1.3"/>
<text x="930.0" y="139.6" font-size="20.8" textLength="68.2" lengthAdjust="spacingAndGlyphs" fill="#000" stroke="#000" stroke-width="0.3">530 nm</text>
<line x1="898.8" y1="162.2" x2="927.6" y2="162.2" stroke="#2aa84a" stroke-width="1.3"/>
<text x="930.0" y="167.9" font-size="20.8" textLength="68.2" lengthAdjust="spacingAndGlyphs" fill="#000" stroke="#000" stroke-width="0.3">520 nm</text>
<line x1="898.8" y1="190.9" x2="927.6" y2="190.9" stroke="#ffb41e" stroke-width="1.3"/>
<text x="930.0" y="196.3" font-size="20.8" textLength="68.2" lengthAdjust="spacingAndGlyphs" fill="#000" stroke="#000" stroke-width="0.3">510 nm</text>
<line x1="898.8" y1="219.0" x2="927.6" y2="219.0" stroke="#6a2c98" stroke-width="1.3"/>
<text x="930.0" y="224.8" font-size="20.8" textLength="68.2" lengthAdjust="spacingAndGlyphs" fill="#000" stroke="#000" stroke-width="0.3">372 nm</text>
<line x1="898.8" y1="247.8" x2="927.6" y2="247.8" stroke="#1a1aff" stroke-width="1.3"/>
<text x="930.0" y="254.0" font-size="20.8" textLength="68.2" lengthAdjust="spacingAndGlyphs" fill="#000" stroke="#000" stroke-width="0.3">348 nm</text>
<g filter="url(#yglow)" stroke="#fff036" fill="#fff036" stroke-linejoin="round" stroke-linecap="round">
<path d="M1101.90,33.00 L1119.57,43.20 L1119.57,63.60 L1101.90,73.80 L1084.23,63.60 L1084.23,43.20 Z M1173.20,33.00 L1190.87,43.20 L1190.87,63.60 L1173.20,73.80 L1155.53,63.60 L1155.53,43.20 Z M1087.83,60.95 L1087.83,45.85 M1102.40,37.44 L1115.47,44.99 M1115.47,61.81 L1102.40,69.36 M1187.27,45.85 L1187.27,60.95 M1159.63,44.99 L1172.70,37.44 M1172.70,69.36 L1159.63,61.81 M1119.57,43.20 L1137.80,32.70 M1137.80,32.70 L1155.53,43.20 M1137.80,32.70 L1137.80,23.40 M1084.23,63.60 L1075.20,68.90 M1190.87,63.60 L1200.60,69.10" fill="none" stroke-width="7.4"/>
<circle cx="1138.2" cy="42.4" r="6" stroke="none"/>
<rect x="1128.0" y="2.8" width="32.2" height="19.6" rx="4.2" stroke="none"/>
<rect x="1057.6" y="64.7" width="18.6" height="19.5" rx="4.2" stroke="none"/>
<rect x="1199.0" y="64.9" width="46.2" height="19.8" rx="4.2" stroke="none"/>
</g>
<path d="M1101.90,33.00 L1119.57,43.20 L1119.57,63.60 L1101.90,73.80 L1084.23,63.60 L1084.23,43.20 Z M1173.20,33.00 L1190.87,43.20 L1190.87,63.60 L1173.20,73.80 L1155.53,63.60 L1155.53,43.20 Z M1087.83,60.95 L1087.83,45.85 M1102.40,37.44 L1115.47,44.99 M1115.47,61.81 L1102.40,69.36 M1187.27,45.85 L1187.27,60.95 M1159.63,44.99 L1172.70,37.44 M1172.70,69.36 L1159.63,61.81 M1119.57,43.20 L1137.80,32.70 M1137.80,32.70 L1155.53,43.20 M1137.80,32.70 L1137.80,23.40 M1084.23,63.60 L1075.20,68.90 M1190.87,63.60 L1200.60,69.10" fill="none" stroke="#111" stroke-width="1.3" stroke-linejoin="round" stroke-linecap="round"/>
<circle cx="1138.2" cy="42.4" r="2.9" fill="#000"/>
<text x="1131.0" y="18.8" font-size="18.0" textLength="26.2" lengthAdjust="spacingAndGlyphs" fill="#000" stroke="#000" stroke-width="0.25">CN</text>
<text x="1060.6" y="80.6" font-size="17.8" textLength="12.6" lengthAdjust="spacingAndGlyphs" fill="#000" stroke="#000" stroke-width="0.25">R</text>
<text x="1202.0" y="81.1" font-size="18.3" textLength="40.2" lengthAdjust="spacingAndGlyphs" fill="#000" stroke="#000" stroke-width="0.25">OMe</text>
<text x="1071.0" y="112.9" font-size="22.3" textLength="139.6" lengthAdjust="spacingAndGlyphs" fill="#000" stroke="#000" stroke-width="0.3">DAAN radical</text>
<path d="M1131.5,123.4 L1150.7,123.4 L1141.1,139 Z" fill="#000"/>
</svg>
</body>
</html>
